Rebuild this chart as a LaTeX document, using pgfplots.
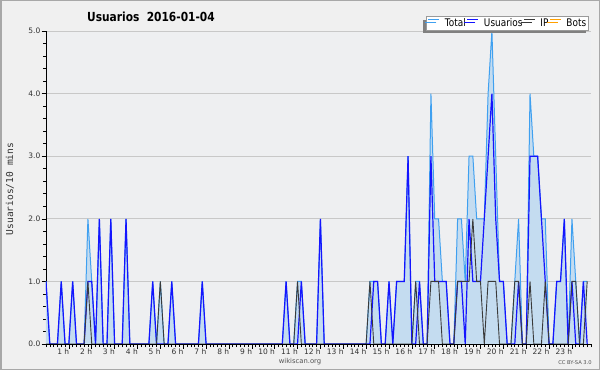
\documentclass[border=0pt]{standalone}
\usepackage{fontspec}
\setmainfont{DejaVu Sans}
\newfontfamily\condfont[FakeStretch=0.85]{DejaVu Sans}
\newfontfamily\monofont{DejaVu Sans Mono}
\usepackage{pgfplots}
\pgfplotsset{compat=1.18}
\usepackage{pgfplotstable}
\usetikzlibrary{shadows}
\definecolor{bgc}{HTML}{F0F0F0}
\definecolor{plotbg}{HTML}{EEEFF1}
\definecolor{bordc}{HTML}{A8A8A8}
\definecolor{gridc}{HTML}{C8C8C8}
\definecolor{totline}{HTML}{3FA0F0}
\definecolor{totfill}{HTML}{C4DCF0}
\definecolor{usrc}{HTML}{1414FF}
\definecolor{ipc}{HTML}{3A3A3A}
\definecolor{botc}{HTML}{FFA000}
\definecolor{labc}{HTML}{333333}
\definecolor{shadc}{HTML}{808080}
\definecolor{legbord}{HTML}{9A9A9A}

\pgfplotstableread{
x T U I B
0 1 1 0 0
1 0 0 0 0
2 0 0 0 0
3 0 0 0 0
4 1 1 0 0
5 0 0 0 0
6 0 0 0 0
7 1 1 0 0
8 0 0 0 0
9 0 0 0 0
10 0 0 0 0
11 2 1 1 0
12 1 1 0 0
13 0 0 0 0
14 2 2 0 0
15 0 0 0 0
16 0 0 0 0
17 2 2 0 0
18 0 0 0 0
19 0 0 0 0
20 0 0 0 0
21 2 2 0 0
22 0 0 0 0
23 0 0 0 0
24 0 0 0 0
25 0 0 0 0
26 0 0 0 0
27 0 0 0 0
28 1 1 0 0
29 0 0 0 0
30 1 0 1 0
31 0 0 0 0
32 0 0 0 0
33 1 1 0 0
34 0 0 0 0
35 0 0 0 0
36 0 0 0 0
37 0 0 0 0
38 0 0 0 0
39 0 0 0 0
40 0 0 0 0
41 1 1 0 0
42 0 0 0 0
43 0 0 0 0
44 0 0 0 0
45 0 0 0 0
46 0 0 0 0
47 0 0 0 0
48 0 0 0 0
49 0 0 0 0
50 0 0 0 0
51 0 0 0 0
52 0 0 0 0
53 0 0 0 0
54 0 0 0 0
55 0 0 0 0
56 0 0 0 0
57 0 0 0 0
58 0 0 0 0
59 0 0 0 0
60 0 0 0 0
61 0 0 0 0
62 0 0 0 0
63 1 1 0 0
64 0 0 0 0
65 0 0 0 0
66 1 0 1 0
67 1 1 0 0
68 0 0 0 0
69 0 0 0 0
70 0 0 0 0
71 0 0 0 0
72 2 2 0 0
73 0 0 0 0
74 0 0 0 0
75 0 0 0 0
76 0 0 0 0
77 0 0 0 0
78 0 0 0 0
79 0 0 0 0
80 0 0 0 0
81 0 0 0 0
82 0 0 0 0
83 0 0 0 0
84 0 0 0 0
85 1 0 1 0
86 1 1 0 0
87 1 1 0 0
88 0 0 0 0
89 0 0 0 0
90 1 1 0 0
91 0 0 0 0
92 1 1 0 0
93 1 1 0 0
94 1 1 0 0
95 3 3 0 0
96 0 0 0 0
97 1 0 1 0
98 1 1 0 0
99 0 0 0 0
100 0 0 0 0
101 4 3 1 0
102 2 1 1 0
103 2 1 1 0
104 1 1 0 0
105 1 1 0 0
106 0 0 0 0
107 0 0 0 0
108 2 1 1 0
109 2 1 1 0
110 1 0 1 0
111 3 2 1 0
112 3 1 2 0
113 2 1 1 0
114 2 1 1 0
115 2 2 0 0
116 4 3 1 0
117 5 4 1 0
118 3 2 1 0
119 1 1 0 0
120 1 1 0 0
121 0 0 0 0
122 0 0 0 0
123 1 0 1 0
124 2 1 1 0
125 0 0 0 0
126 0 0 0 0
127 4 3 1 0
128 3 3 0 0
129 3 3 0 0
130 2 2 0 0
131 2 1 1 0
132 0 0 0 0
133 0 0 0 0
134 1 1 0 0
135 1 1 0 0
136 2 2 0 0
137 0 0 0 0
138 2 1 1 0
139 1 0 1 0
140 0 0 0 0
141 1 1 0 0
142 1 0 1 0
}\datatable

\begin{document}
\begin{tikzpicture}[x=1pt,y=1pt]
\fill[bgc] (0,0) rectangle (600,370);
\draw[bordc, line width=1.5pt] (0.75,0.75) rectangle (599.25,369.25);
\node[font=\condfont\bfseries\fontsize{12.5}{14}\selectfont] at (151,353.3) {Usuarios\ \ 2016-01-04};
\node[rotate=90, font=\monofont\fontsize{9.6}{11}\selectfont, text=labc] at (10,181) {Usuarios/10 mins};
\node[font=\fontsize{6.8}{8}\selectfont, text=labc!85] at (300,8) {wikiscan.org};
\node[font=\fontsize{5.2}{6}\selectfont, text=labc!85] at (575,7) {CC BY-SA 3.0};
\begin{axis}[
  at={(46pt,26pt)}, anchor=south west,
  scale only axis, width=545pt, height=313pt,
  xmin=0, xmax=143, ymin=0, ymax=5,
  axis lines=left, axis line style={-, black, line width=0.9pt},
  axis background/.style={fill=plotbg},
  tick align=outside,
  tick style={black, line width=0.6pt},
  major tick length=4.5pt, minor tick length=3pt,
  ytick={0,1,2,3,4,5}, minor y tick num=4,
  ymajorgrids, grid style={gridc, line width=0.9pt},
  xtick={6,12,...,138},
  xticklabels={1 h,2 h,3 h,4 h,5 h,6 h,7 h,8 h,9 h,10 h,11 h,12 h,13 h,14 h,15 h,16 h,17 h,18 h,19 h,20 h,21 h,22 h,23 h},
  minor xtick={0,1,...,143},
  xticklabel style={font=\fontsize{7.5}{9}\selectfont, text=labc, anchor=north east, inner sep=0.5pt, xshift=1pt},
  yticklabel style={font=\fontsize{7.5}{9}\selectfont, text=labc, inner sep=1pt},
  /pgf/number format/.cd, fixed, fixed zerofill, precision=1, assume math mode=true,
  /pgfplots/.cd,
  legend columns=4,
  legend cell align=left,
  legend image code/.code={\draw[#1] (0pt,3.5pt) -- (11pt,3.5pt); \path (0pt,0pt) (15pt,0pt);},
  legend style={at={(rel axis cs:0.9965,1.047)}, anchor=north east,
    draw=legbord, line width=0.8pt, fill=white,
    font=\condfont\fontsize{10.5}{12}\selectfont,
    inner xsep=1.5pt, inner ysep=0.3pt,
    nodes={inner xsep=1pt, inner ysep=1.6pt},
    drop shadow={shadow xshift=-3pt, shadow yshift=-3pt, fill=shadc, opacity=1},
    /tikz/every even column/.append style={column sep=0pt}},
]
\addplot[draw=none, fill=totfill, forget plot] table[x=x, y=T] {\datatable} \closedcycle;
\addplot[totline, line width=1pt] table[x=x, y=T] {\datatable};
\addlegendentry{Total}
\addplot[usrc, line width=1.2pt] table[x=x, y=U] {\datatable};
\addlegendentry{Usuarios}
\addplot[ipc, line width=0.9pt] table[x=x, y=I] {\datatable};
\addlegendentry{IP}
\addplot[botc, line width=1pt] table[x=x, y=B] {\datatable};
\addlegendentry{Bots}
\draw[black, line width=0.9pt] (rel axis cs:0,0) -- (rel axis cs:1,0);
\end{axis}
\end{tikzpicture}
\end{document}
